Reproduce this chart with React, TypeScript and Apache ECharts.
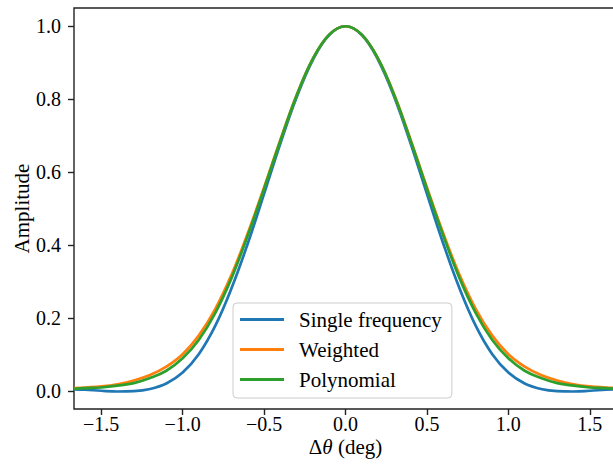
import React, { useEffect, useRef } from "react";
import * as echarts from "echarts";

const xValues = [
  -1.667, -1.6, -1.5, -1.4, -1.3, -1.2, -1.1, -1.0, -0.9, -0.8, -0.7, -0.6, -0.5, -0.4, -0.3, -0.2, -0.1,
  0.0,
  0.1, 0.2, 0.3, 0.4, 0.5, 0.6, 0.7, 0.8, 0.9, 1.0, 1.1, 1.2, 1.3, 1.4, 1.5, 1.6, 1.667,
];

const singleFrequency = [
  0.004, 0.003, 0.0, -0.002, -0.001, 0.005, 0.02, 0.05, 0.101, 0.178, 0.281, 0.404, 0.54, 0.678, 0.805, 0.908, 0.976,
  1.0,
  0.976, 0.908, 0.805, 0.678, 0.54, 0.404, 0.281, 0.178, 0.101, 0.05, 0.02, 0.005, -0.001, -0.002, 0.0, 0.003, 0.004,
];

const weighted = [
  0.007, 0.009, 0.012, 0.018, 0.028, 0.043, 0.066, 0.1, 0.152, 0.224, 0.318, 0.432, 0.558, 0.688, 0.811, 0.911, 0.977,
  1.0,
  0.977, 0.911, 0.811, 0.688, 0.558, 0.432, 0.318, 0.224, 0.152, 0.1, 0.066, 0.043, 0.028, 0.018, 0.012, 0.009, 0.007,
];

const polynomial = [
  0.005, 0.007, 0.009, 0.014, 0.021, 0.035, 0.055, 0.089, 0.14, 0.213, 0.309, 0.426, 0.554, 0.686, 0.81, 0.911, 0.977,
  1.0,
  0.977, 0.911, 0.81, 0.686, 0.554, 0.426, 0.309, 0.213, 0.14, 0.089, 0.055, 0.035, 0.021, 0.014, 0.009, 0.007, 0.005,
];

const xTicks = [-1.5, -1.0, -0.5, 0.0, 0.5, 1.0, 1.5];
const yTicks = [0.0, 0.2, 0.4, 0.6, 0.8, 1.0];
const seriesNames = ["Single frequency", "Weighted", "Polynomial"];
const colors = ["#1f77b4", "#ff7f0e", "#2ca02c"];

const FONT = "Liberation Serif";
const fmt = (v: number) => v.toFixed(1).replace("-", "\u2212");

export default function App() {
  const ref = useRef<HTMLDivElement>(null);
  useEffect(() => {
    if (!ref.current) return;
    const chart = echarts.init(ref.current, undefined, { renderer: "svg" });
    const allSeries = [singleFrequency, weighted, polynomial];
    chart.setOption({
      animation: false,
      backgroundColor: "#ffffff",
      grid: {
        left: 74,
        top: 8,
        width: 543,
        height: 401,
        show: true,
        borderColor: "#222222",
        borderWidth: 1.4,
        backgroundColor: "transparent",
        containLabel: false,
        outerBoundsMode: "none",
      },
      legend: {
        orient: "vertical",
        left: 233,
        top: 303,
        padding: [6, 10, 8, 7],
        itemGap: 9,
        itemWidth: 44,
        itemHeight: 3,
        icon: "rect",
        backgroundColor: "rgba(255,255,255,0.8)",
        borderColor: "#cccccc",
        borderWidth: 1,
        borderRadius: 4,
        textStyle: {
          fontFamily: FONT,
          fontSize: 21,
          lineHeight: 20,
          color: "#000000",
          padding: [0, 0, 0, 10],
        },
        data: seriesNames,
      },
      xAxis: {
        type: "value",
        min: -1.667,
        max: 1.667,
        name: "{n|\u0394}{i|\u03b8}{n| (deg)}",
        nameLocation: "middle",
        nameGap: 27,
        nameMoveOverlap: false,
        nameTextStyle: {
          rich: {
            n: { fontFamily: FONT, fontSize: 21, color: "#000000" },
            i: { fontFamily: FONT, fontSize: 21, fontStyle: "italic", color: "#000000" },
          },
        },
        axisLine: { show: false, onZero: false },
        axisTick: {
          show: true,
          inside: false,
          length: 6,
          lineStyle: { color: "#222222", width: 1.4 },
          customValues: xTicks,
        },
        axisLabel: {
          show: true,
          margin: 5,
          fontFamily: FONT,
          fontSize: 20,
          color: "#000000",
          customValues: xTicks,
          formatter: (v: number) => fmt(v),
        },
        splitLine: { show: false },
      },
      yAxis: {
        type: "value",
        min: -0.05,
        max: 1.05,
        name: "Amplitude",
        nameLocation: "middle",
        nameGap: 42,
        nameMoveOverlap: false,
        nameTextStyle: { fontFamily: FONT, fontSize: 21, color: "#000000" },
        axisLine: { show: false, onZero: false },
        axisTick: {
          show: true,
          inside: false,
          length: 6,
          lineStyle: { color: "#222222", width: 1.4 },
          customValues: yTicks,
        },
        axisLabel: {
          show: true,
          margin: 13,
          fontFamily: FONT,
          fontSize: 20,
          color: "#000000",
          customValues: yTicks,
          formatter: (v: number) => fmt(v),
        },
        splitLine: { show: false },
      },
      series: seriesNames.map((name, i) => ({
        name,
        type: "line",
        data: xValues.map((x, j) => [x, allSeries[i][j]]),
        smooth: 0.4,
        symbol: "none",
        showSymbol: false,
        lineStyle: { color: colors[i], width: 2.7 },
        itemStyle: { color: colors[i] },
        clip: true,
      })),
    });
    return () => chart.dispose();
  }, []);
  return (
    <div
      ref={ref}
      style={{ position: "absolute", left: 0, top: 0, width: 613, height: 464 }}
    />
  );
}
